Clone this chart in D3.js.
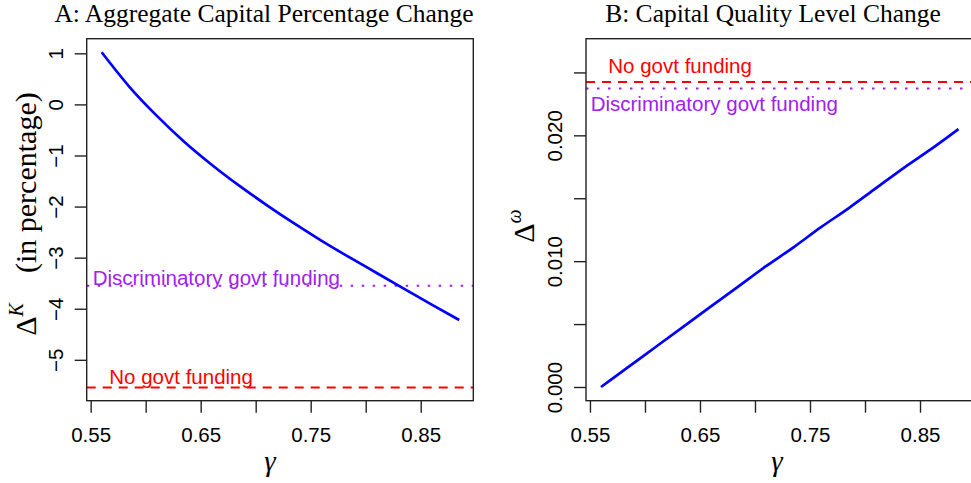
<!DOCTYPE html>
<html>
<head>
<meta charset="utf-8">
<script src="https://cdn.jsdelivr.net/npm/d3@7"></script>
<style>
  html, body { margin: 0; padding: 0; background: #fff; }
  svg { display: block; }
</style>
</head>
<body>
<svg id="chart" width="971" height="483"></svg>
<script>
// ---------------- data ----------------
const gamma = [0.56, 0.585, 0.61, 0.635, 0.66, 0.685, 0.71, 0.735, 0.76, 0.785, 0.81, 0.835, 0.86, 0.885];
const capitalPctChange = [1.02, 0.35, -0.22, -0.73, -1.18, -1.59, -1.97, -2.33, -2.67, -2.99, -3.30, -3.61, -3.92, -4.22];
const qualityLevelChange = [0.0000, 0.0016, 0.0032, 0.0048, 0.0064, 0.0080, 0.0096, 0.0111, 0.0127, 0.0142, 0.0158, 0.0174, 0.0189, 0.0205];
const noFundingK = -5.54;
const discrimFundingK = -3.55;
const noFundingW = 0.02424;
const discrimFundingW = 0.02373;
const xTicks = [0.55, 0.60, 0.65, 0.70, 0.75, 0.80, 0.85];
const xTickLabels = ["0.55", "", "0.65", "", "0.75", "", "0.85"];
const yTicksK = [-5, -4, -3, -2, -1, 0, 1];
const yTickLabelsK = ["\u22125", "\u22124", "\u22123", "\u22122", "\u22121", "0", "1"];
const yTicksW = [0, 0.005, 0.010, 0.015, 0.020, 0.025];
const yTickLabelsW = ["0.000", "", "0.010", "", "0.020", ""];
const titles = ["A: Aggregate Capital Percentage Change", "B: Capital Quality Level Change"];
const labelNoFunding = "No govt funding";
const labelDiscrim = "Discriminatory govt funding";

// ---------------- layout ----------------
const svg = d3.select("#chart");
const SANS = "'Liberation Sans', Arial, Helvetica, sans-serif";
const SERIF = "'Liberation Serif', 'Times New Roman', Times, serif";
const COL_BLUE = "#0000FF", COL_RED = "#FF0000", COL_PURPLE = "#A020F0";

const panels = [
  { left: 86.7, right: 473.3, xdom: [0.5464, 0.8978], ydom: [-5.80, 1.286],
    values: capitalPctChange, noF: noFundingK, disc: discrimFundingK,
    yTicks: yTicksK, yLabels: yTickLabelsK, title: titles[0], titleX: 264, gammaX: 270 },
  { left: 586, right: 972.6, xdom: [0.5464, 0.8978], ydom: [-0.00109, 0.02768],
    values: qualityLevelChange, noF: noFundingW, disc: discrimFundingW,
    yTicks: yTicksW, yLabels: yTickLabelsW, title: titles[1], titleX: 773, gammaX: 777 }
];
const plotTop = 38.7, plotBottom = 400.7;

panels.forEach((p, i) => {
  const x = d3.scaleLinear().domain(p.xdom).range([p.left, p.right]);
  const y = d3.scaleLinear().domain(p.ydom).range([plotBottom, plotTop]);
  const g = svg.append("g");

  // reference lines
  g.append("line")
    .attr("x1", p.left).attr("x2", p.right)
    .attr("y1", y(p.noF)).attr("y2", y(p.noF))
    .attr("stroke", COL_RED).attr("stroke-width", 2)
    .attr("stroke-dasharray", "9,7");
  g.append("line")
    .attr("x1", p.left).attr("x2", p.right)
    .attr("y1", y(p.disc)).attr("y2", y(p.disc))
    .attr("stroke", COL_PURPLE).attr("stroke-width", 2)
    .attr("stroke-dasharray", "2.5,8.5");

  // main curve
  const line = d3.line().x((d, k) => x(gamma[k])).y(d => y(d)).curve(d3.curveMonotoneX);
  g.append("path").datum(p.values)
    .attr("d", line).attr("fill", "none")
    .attr("stroke", COL_BLUE).attr("stroke-width", 2.7);

  // annotation texts
  if (i === 0) {
    g.append("text").attr("x", p.left + 6).attr("y", y(p.disc) - 0.7)
      .attr("font-family", SANS).attr("font-size", 20.5).attr("fill", COL_PURPLE)
      .text(labelDiscrim);
    g.append("text").attr("x", p.left + 22.6).attr("y", y(p.noF) - 3.8)
      .attr("font-family", SANS).attr("font-size", 20.5).attr("fill", COL_RED)
      .text(labelNoFunding);
  } else {
    g.append("text").attr("x", p.left + 22.3).attr("y", y(p.noF) - 9)
      .attr("font-family", SANS).attr("font-size", 20.5).attr("fill", COL_RED)
      .text(labelNoFunding);
    g.append("text").attr("x", p.left + 4.7).attr("y", y(p.disc) + 23)
      .attr("font-family", SANS).attr("font-size", 20.5).attr("fill", COL_PURPLE)
      .text(labelDiscrim);
  }

  // box
  g.append("rect")
    .attr("x", p.left).attr("y", plotTop)
    .attr("width", p.right - p.left).attr("height", plotBottom - plotTop)
    .attr("fill", "none").attr("stroke", "#222").attr("stroke-width", 1.4);

  // x axis
  const xa = g.append("g").attr("transform", `translate(0,${plotBottom})`)
    .call(d3.axisBottom(x).tickValues(xTicks).tickSize(12).tickPadding(14.4)
      .tickFormat((d, k) => xTickLabels[k]));
  xa.select(".domain").remove();
  xa.selectAll("line").attr("stroke", "#222").attr("stroke-width", 1.4);
  xa.selectAll("text").attr("font-family", SANS).attr("font-size", 20.5).attr("fill", "#000");

  // y axis
  const ya = g.append("g").attr("transform", `translate(${p.left},0)`)
    .call(d3.axisLeft(y).tickValues(p.yTicks).tickSize(12)
      .tickFormat((d, k) => p.yLabels[k]));
  ya.select(".domain").remove();
  ya.selectAll("line").attr("stroke", "#222").attr("stroke-width", 1.4);
  ya.selectAll("text")
    .attr("x", null).attr("dy", null)
    .attr("transform", "translate(-23.6,0) rotate(-90)")
    .attr("text-anchor", "middle")
    .attr("font-family", SANS).attr("font-size", 20.5).attr("fill", "#000");

  // title
  svg.append("text").attr("x", p.titleX).attr("y", 21.5)
    .attr("text-anchor", "middle").attr("font-family", SERIF)
    .attr("font-size", 25.5).attr("fill", "#000").text(p.title);

  // x label gamma
  svg.append("text").attr("x", p.gammaX).attr("y", 471)
    .attr("text-anchor", "middle").attr("font-family", SERIF)
    .attr("font-style", "italic").attr("font-size", 29).attr("fill", "#000").text("\u03B3");
});

// y labels
const ylab1 = svg.append("text")
  .attr("transform", `translate(36,214) rotate(-90)`)
  .attr("text-anchor", "middle").attr("font-family", SERIF).attr("font-size", 30).attr("fill", "#000");
ylab1.append("tspan").text("\u0394");
ylab1.append("tspan").attr("font-style", "italic").attr("font-size", 20).attr("dy", -13).text("K");
ylab1.append("tspan").attr("dy", 13).text("\u2002\u2002(in percentage)");

const ylab2 = svg.append("text")
  .attr("transform", `translate(534,226) rotate(-90)`)
  .attr("text-anchor", "middle").attr("font-family", SERIF).attr("font-size", 30).attr("fill", "#000");
ylab2.append("tspan").text("\u0394");
ylab2.append("tspan").attr("font-style", "italic").attr("font-size", 20).attr("dy", -13).text("\u03C9");
</script>
</body>
</html>
